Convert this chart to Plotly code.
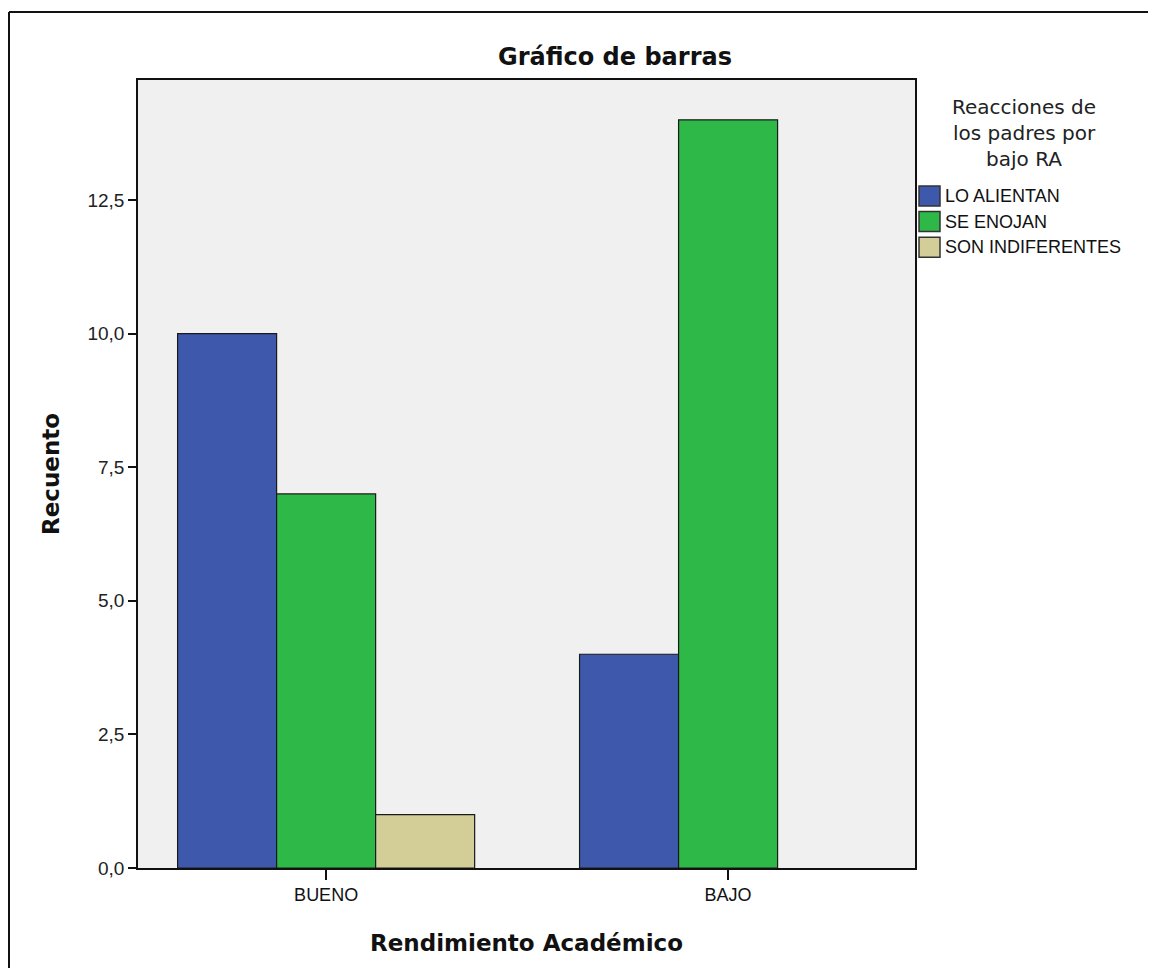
import plotly.graph_objects as go

# Datos
categorias = ["BUENO", "BAJO"]
series = ["LO ALIENTAN", "SE ENOJAN", "SON INDIFERENTES"]
lo_alientan = [10, 4]
se_enojan = [7, 14]
son_indiferentes = [1, None]
y_ticks = [0, 2.5, 5, 7.5, 10, 12.5]

COLORS = ['#3E58AC', '#2EB848', '#D3CE97']

# la página tiene 8px de margen en el body; se deja sitio para no provocar scroll
OFF = 8
W, H = 1156 - 2 * OFF, 976 - 2 * OFF
L, T = 138 - OFF, 80 - OFF
R, B = W - (915 - OFF), H - (868 - OFF)
PW, PH = W - L - R, H - T - B


def px_x(px):
    return (px - OFF - L) / PW


def px_y(py):
    return (H - B - (py - OFF)) / PH


fig = go.Figure()
for name, vals, color in zip(series, [lo_alientan, se_enojan, son_indiferentes], COLORS):
    fig.add_trace(go.Bar(
        x=categorias,
        y=vals,
        name=name,
        marker=dict(color=color, line=dict(color='#1a1a1a', width=1.2)),
        showlegend=False,
    ))

# Leyenda dibujada a mano (cuadros grandes como en SPSS)
for i, (name, color) in enumerate(zip(series, COLORS)):
    yc = 196 + 25.6 * i
    fig.add_shape(
        type='rect', xref='paper', yref='paper',
        x0=px_x(919), x1=px_x(940), y0=px_y(yc + 10), y1=px_y(yc - 10),
        fillcolor=color, line=dict(color='#333333', width=1.5),
    )
    fig.add_annotation(
        x=px_x(943), y=px_y(yc), xref='paper', yref='paper',
        text=name, showarrow=False, xanchor='left', yanchor='middle',
        font=dict(family='Liberation Sans', size=18, color='#111111'),
    )

fig.add_annotation(
    x=px_x(1024), y=px_y(133), xref='paper', yref='paper',
    text='Reacciones de<br>los padres por<br>bajo RA', showarrow=False,
    xanchor='center', yanchor='middle', align='center',
    font=dict(family='DejaVu Sans', size=20, color='#222222'),
)

# Marco exterior (solo borde superior e izquierdo quedan a la vista)
fig.add_shape(
    type='line', xref='paper', yref='paper',
    x0=px_x(9), x1=px_x(1156), y0=px_y(12), y1=px_y(12),
    line=dict(color='#111111', width=2),
)
fig.add_shape(
    type='line', xref='paper', yref='paper',
    x0=px_x(9), x1=px_x(9), y0=px_y(12), y1=px_y(976),
    line=dict(color='#111111', width=2),
)

fig.update_layout(
    width=W, height=H,
    margin=dict(l=L, r=R, t=T, b=B),
    paper_bgcolor='white',
    plot_bgcolor='#F0F0F0',
    barmode='group',
    bargap=0.261,
    bargroupgap=0,
    separators=', ',
    title=dict(
        text='<b>Gráfico de barras</b>',
        x=(615 - OFF) / W, xanchor='center',
        y=1 - (57 - OFF) / H, yanchor='middle',
        font=dict(family='DejaVu Sans', size=24, color='#111111'),
    ),
)

fig.update_xaxes(
    type='category',
    range=[-0.468, 1.465],
    showgrid=False,
    showline=True, linecolor='#111111', linewidth=1.5, mirror=True,
    ticks='outside', ticklen=10, tickwidth=1.5, tickcolor='#111111',
    tickfont=dict(family='Liberation Sans', size=18, color='#111111'),
    title=dict(
        text='<b>Rendimiento Académico</b>',
        font=dict(family='DejaVu Sans', size=23, color='#111111'),
        standoff=31,
    ),
)

fig.update_yaxes(
    range=[0, 14.745],
    tickvals=y_ticks,
    tickformat='.1f',
    showgrid=False, zeroline=False,
    showline=True, linecolor='#111111', linewidth=1.5, mirror=True,
    ticks='outside', ticklen=8, tickwidth=1.5, tickcolor='#111111',
    tickfont=dict(family='Liberation Sans', size=19, color='#222222'),
    title=dict(
        text='<b>Recuento</b>',
        font=dict(family='DejaVu Sans', size=23, color='#111111'),
        standoff=21,
    ),
)

fig.write_html("out.html")
